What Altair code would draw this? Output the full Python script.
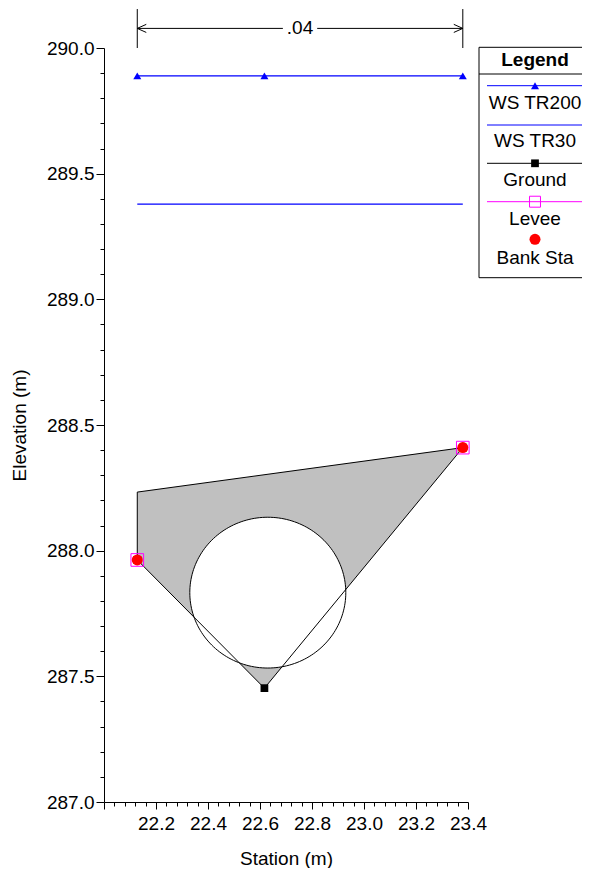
import altair as alt
import pandas as pd
import numpy as np

FONT = "Liberation Sans"
FS = 19

# ---- data ----
ground_sta = [22.128, 22.617, 23.38]
ground_elev = [287.963, 287.453, 288.410]
levee_sta = [22.128, 23.38]
levee_elev = [287.963, 288.410]
bank_sta = [22.128, 23.38]
bank_elev = [287.963, 288.410]
ws200_sta = [22.128, 22.617, 23.38]
ws200_elev = [289.889, 289.889, 289.889]
ws30_sta = [22.128, 23.38]
ws30_elev = [289.379, 289.379]
# top of the blocked (gray) region, left edge then sloping top
top_sta = [22.128, 22.128, 23.38]
top_elev = [287.963, 288.233, 288.410]
# culvert opening
culvert_sta = 22.63
culvert_elev = 287.833
culvert_radius = 0.30
# Manning's n annotation
n_text = ".04"
n_sta = [22.128, 23.38]
n_rule_low, n_rule_high, n_arrow_elev = 290.0, 290.155, 290.078

legend_names = ["WS TR200", "WS TR30", "Ground", "Levee", "Bank Sta"]

x_ticks = [round(22.0 + 0.04 * k, 2) for k in range(36)]
y_ticks = [round(287.0 + 0.1 * k, 1) for k in range(31)]

xscale = alt.Scale(domain=[22.0, 23.4], nice=False, zero=False)
yscale = alt.Scale(domain=[287.0, 290.0], nice=False, zero=False)

xaxis = alt.Axis(
    values=x_ticks, title="Station (m)", grid=False,
    labelExpr="(round(datum.value*100) % 20 == 0 && datum.value > 22.01) ? format(datum.value, '.1f') : ''",
    tickSize={"condition": {"test": "round(datum.value*100) % 20 == 0", "value": 7}, "value": 4},
    labelOverlap=False, labelFlush=False, labelPadding=5, titlePadding=16,
)
yaxis = alt.Axis(
    values=y_ticks, title="Elevation (m)", grid=False,
    labelExpr="(round(datum.value*10) % 5 == 0) ? format(datum.value, '.1f') : ''",
    tickSize={"condition": {"test": "round(datum.value*10) % 5 == 0", "value": 8}, "value": 4},
    labelOverlap=False, labelFlush=False, labelPadding=2, titlePadding=17,
)

X = alt.X("sta:Q", scale=xscale, axis=xaxis)
Y = alt.Y("elev:Q", scale=yscale, axis=yaxis)

# gray blocked area between the top line and the ground
fill_top = np.interp(ground_sta, top_sta[1:], top_elev[1:])
fill_df = pd.DataFrame({"sta": ground_sta, "elev": ground_elev, "top": fill_top})
fill = alt.Chart(fill_df).mark_area(color="#C0C0C0", opacity=1).encode(
    x=X, y=Y, y2="top:Q")

top_df = pd.DataFrame({"sta": top_sta, "elev": top_elev, "o": range(len(top_sta))})
top_line = alt.Chart(top_df).mark_line(color="black", strokeWidth=1).encode(
    x=X, y=Y, order="o:Q")

# culvert circle
t = np.linspace(0, np.pi, 91)
circ_fill_df = pd.DataFrame({
    "sta": culvert_sta + culvert_radius * np.cos(t),
    "elev": culvert_elev - culvert_radius * np.sin(t),
    "up": culvert_elev + culvert_radius * np.sin(t),
})
circ_fill = alt.Chart(circ_fill_df).mark_area(color="white", opacity=1).encode(
    x=X, y=Y, y2="up:Q")
tt = np.linspace(0, 2 * np.pi, 181)
circ_df = pd.DataFrame({
    "sta": culvert_sta + culvert_radius * np.cos(tt),
    "elev": culvert_elev + culvert_radius * np.sin(tt),
    "o": range(len(tt)),
})
circ_line = alt.Chart(circ_df).mark_line(color="black", strokeWidth=1).encode(
    x=X, y=Y, order="o:Q")

gdf = pd.DataFrame({"sta": ground_sta, "elev": ground_elev})
ground_line = alt.Chart(gdf).mark_line(color="black", strokeWidth=1).encode(x=X, y=Y)
ground_pts = alt.Chart(gdf).mark_point(shape="square", filled=True, color="black",
                                        size=60, opacity=1).encode(x=X, y=Y)

w200 = pd.DataFrame({"sta": ws200_sta, "elev": ws200_elev})
ws200_line = alt.Chart(w200).mark_line(color="#0000FF", strokeWidth=1.2).encode(x=X, y=Y)
ws200_pts = alt.Chart(w200).mark_point(shape="triangle-up", filled=True, color="#0000FF",
                                        size=64, opacity=1).encode(x=X, y=Y)
w30 = pd.DataFrame({"sta": ws30_sta, "elev": ws30_elev})
ws30_line = alt.Chart(w30).mark_line(color="#0000FF", strokeWidth=1.2).encode(x=X, y=Y)

ldf = pd.DataFrame({"sta": levee_sta, "elev": levee_elev})
levee_pts = alt.Chart(ldf).mark_point(shape="square", filled=False, color="#FF00FF",
                                       size=160, strokeWidth=1, opacity=1).encode(x=X, y=Y)
bdf = pd.DataFrame({"sta": bank_sta, "elev": bank_elev})
bank_pts = alt.Chart(bdf).mark_point(shape="circle", filled=True, color="#FF0000",
                                      size=121, opacity=1).encode(x=X, y=Y)

# Manning's n dimension annotation
nv_df = pd.DataFrame({"sta": n_sta, "elev": [n_rule_low] * 2, "hi": [n_rule_high] * 2})
n_vert = alt.Chart(nv_df).mark_rule(color="black", strokeWidth=1).encode(x=X, y=Y, y2="hi:Q")
mid = (n_sta[0] + n_sta[1]) / 2
gap = 0.066
nh_df = pd.DataFrame({"sta": [n_sta[0], mid + gap], "s2": [mid - gap, n_sta[1]],
                      "elev": [n_arrow_elev] * 2})
n_horiz = alt.Chart(nh_df).mark_rule(color="black", strokeWidth=1).encode(x=X, x2="s2:Q", y=Y)
arrow_l = alt.Chart(pd.DataFrame({"sta": [n_sta[0]], "elev": [n_arrow_elev]})).mark_point(
    shape="M 2 -0.9 L 0 0 L 2 0.9", filled=False, color="black", size=81, strokeWidth=1,
    opacity=1).encode(x=X, y=Y)
arrow_r = alt.Chart(pd.DataFrame({"sta": [n_sta[1]], "elev": [n_arrow_elev]})).mark_point(
    shape="M -2 -0.9 L 0 0 L -2 0.9", filled=False, color="black", size=81, strokeWidth=1,
    opacity=1).encode(x=X, y=Y)
n_label = alt.Chart(pd.DataFrame({"sta": [mid], "elev": [n_arrow_elev], "t": [n_text]})).mark_text(
    font=FONT, fontSize=FS, color="black", baseline="middle", align="center").encode(
    x=X, y=Y, text="t:N")

# ---- legend (drawn by hand, HEC-RAS style) ----
one = pd.DataFrame({"k": [0]})
LX0, LX1, LXC = 375, 500, 431
LL0, LL1 = 383, 479
legend = [
    alt.Chart(one).mark_rect(fill="white", stroke="black", strokeWidth=1).encode(
        x=alt.value(LX0), x2=alt.value(LX1), y=alt.value(-0.7), y2=alt.value(229.7)),
    alt.Chart(one).mark_text(text="Legend", font=FONT, fontSize=FS, fontWeight="bold",
                             color="black", baseline="middle", align="center").encode(
        x=alt.value(LXC), y=alt.value(11.8)),
    alt.Chart(one).mark_rule(color="black", strokeWidth=1).encode(
        x=alt.value(LX0), x2=alt.value(LX1), y=alt.value(26)),
]
row_line_y = [37.7, 77.0, 115.3, 153.7, 191.3]
row_label_y = [55.3, 93.3, 131.8, 171.3, 209.8]
line_colors = ["#0000FF", "#0000FF", "black", "#FF00FF", None]
for i, name in enumerate(legend_names):
    ly = row_line_y[i]
    if line_colors[i]:
        legend.append(alt.Chart(one).mark_rule(color=line_colors[i], strokeWidth=1).encode(
            x=alt.value(LL0), x2=alt.value(LL1), y=alt.value(ly)))
    legend.append(alt.Chart(one).mark_text(text=name, font=FONT, fontSize=FS, color="black",
                                           baseline="middle", align="center").encode(
        x=alt.value(LXC), y=alt.value(row_label_y[i])))
legend.append(alt.Chart(one).mark_point(shape="triangle-up", filled=True, color="#0000FF",
                                        size=64, opacity=1).encode(
    x=alt.value(LXC), y=alt.value(row_line_y[0])))
legend.append(alt.Chart(one).mark_point(shape="square", filled=True, color="black",
                                        size=60, opacity=1).encode(
    x=alt.value(LXC), y=alt.value(row_line_y[2])))
legend.append(alt.Chart(one).mark_point(shape="square", filled=False, color="#FF00FF",
                                        size=120, strokeWidth=1, opacity=1).encode(
    x=alt.value(LXC), y=alt.value(row_line_y[3])))
legend.append(alt.Chart(one).mark_point(shape="circle", filled=True, color="#FF0000",
                                        size=121, opacity=1).encode(
    x=alt.value(LXC), y=alt.value(row_line_y[4])))

chart = alt.layer(
    fill, circ_fill, top_line, circ_line, ws30_line, ws200_line, ws200_pts,
    ground_line, ground_pts, levee_pts, bank_pts,
    n_vert, n_horiz, arrow_l, arrow_r, n_label,
    *legend,
).properties(
    width=364, height=754,
    autosize=alt.AutoSizeParams(type="none"),
    padding={"left": 96, "top": 40, "right": 114, "bottom": 66},
).configure_view(stroke=None).configure_axis(
    labelFont=FONT, titleFont=FONT, labelFontSize=FS, titleFontSize=FS,
    titleFontWeight="normal", labelColor="black", titleColor="black",
    domainColor="black", tickColor="black", domainWidth=1, tickWidth=1,
)

chart.save("out.html", embed_options={"renderer": "svg", "actions": False})
